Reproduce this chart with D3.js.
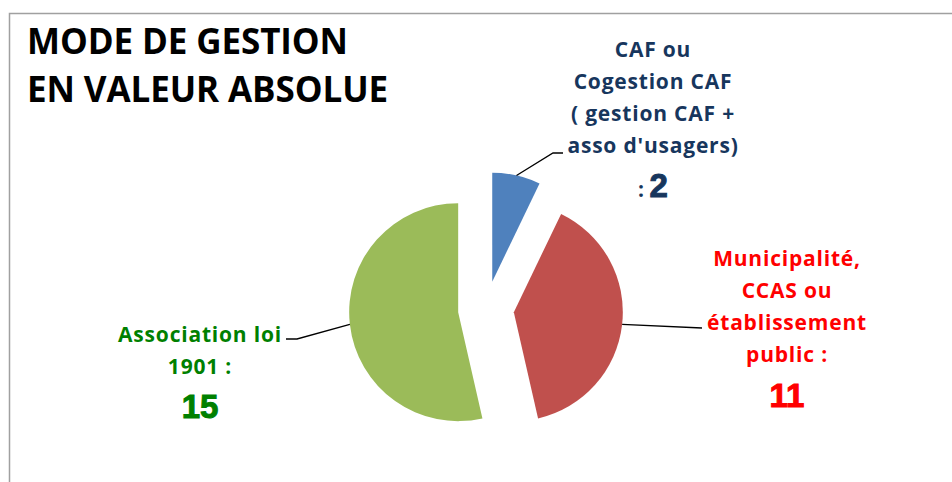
<!DOCTYPE html>
<html>
<head>
<meta charset="utf-8">
<script src="https://cdn.jsdelivr.net/npm/d3@7"></script>
<style>
	body { margin: 0; background: #fff; }
	svg { display: block; }
	text { font-family: 'Open Sans', 'Liberation Sans', sans-serif; font-weight: bold; }
</style>
</head>
<body>
<div id="chart"></div>
<script>
var categories = ['CAF ou Cogestion CAF', 'Municipalité, CCAS ou établissement public', 'Association loi 1901']
var values = [2, 11, 15]
var labelLines = [
	['CAF ou', 'Cogestion CAF', '( gestion CAF +', "asso d'usagers)"],
	['Municipalité,', 'CCAS ou', 'établissement', 'public :'],
	['Association loi', '1901 :']
]
var valuePrefix = [': ', '', '']
var sliceColors = ['#4f81bd', '#c0504d', '#9bbb59']
var textColors = ['#17365d', '#ff0000', '#008000']

function createPie() {
	let width = 952
	let height = 482
	var center = { x: 486, y: 309 }
	let radius = 109
	let explode = 28

	const svg = d3.select('#chart').append('svg')
		.attr('width', width)
		.attr('height', height)

	// chart frame (only top and left visible)
	svg.append('rect')
		.attr('x', 9.5)
		.attr('y', 13.5)
		.attr('width', 960)
		.attr('height', 500)
		.attr('fill', 'none')
		.attr('stroke', '#a0a0a0')
		.attr('stroke-width', 1.5)

	// title
	svg.selectAll('.title')
		.data(['MODE DE GESTION', 'EN VALEUR ABSOLUE'])
		.enter()
		.append('text')
		.attr('class', 'title')
		.attr('x', 27)
		.attr('y', (d, i) => 54 + i * 48)
		.attr('font-size', 35)
		.attr('letter-spacing', -0.1)
		.attr('fill', '#000')
		.text(d => d)

	var data = categories.map((c, i) => ({ name: c, value: values[i], i: i }))

	var pie = d3.pie()
		.sort(null)
		.value(d => d.value)

	var arcs = pie(data)
	var arc = d3.arc().innerRadius(0).outerRadius(radius)

	function dir(a) { return [Math.sin(a), -Math.cos(a)] }

	var slices = svg.append('g')
		.attr('transform', `translate(${center.x},${center.y})`)

	slices.selectAll('path')
		.data(arcs)
		.enter()
		.append('path')
		.attr('d', arc)
		.attr('fill', d => sliceColors[d.data.i])
		.attr('transform', d => {
			let m = dir((d.startAngle + d.endAngle) / 2)
			return `translate(${m[0] * explode},${m[1] * explode})`
		})

	// label layout: leader line bend/end and text anchor
	var layout = [
		{ bend: [553, 153], end: [563, 153], x: 653, y: 57, big: 197 },
		{ bend: [702, 328], end: [702, 328], x: 787, y: 266, big: 407 },
		{ bend: [297, 339], end: [286, 339], x: 200, y: 342, big: 418 }
	]

	arcs.forEach(d => {
		let i = d.data.i
		let L = layout[i]
		let m = dir((d.startAngle + d.endAngle) / 2)
		let sx = center.x + m[0] * (explode + radius)
		let sy = center.y + m[1] * (explode + radius)

		svg.append('path')
			.attr('d', d3.line()([[sx, sy], L.bend, L.end]))
			.attr('fill', 'none')
			.attr('stroke', '#000')
			.attr('stroke-width', 1.3)

		let g = svg.append('g')
		g.selectAll('text')
			.data(labelLines[i])
			.enter()
			.append('text')
			.attr('x', L.x)
			.attr('y', (t, k) => L.y + k * 32)
			.attr('text-anchor', 'middle')
			.attr('font-size', 21)
			.attr('letter-spacing', 0.8)
			.attr('fill', textColors[i])
			.text(t => t)

		let v = g.append('text')
			.attr('x', L.x)
			.attr('y', L.big)
			.attr('text-anchor', 'middle')
			.attr('fill', textColors[i])
		if (valuePrefix[i]) {
			v.append('tspan')
				.attr('font-size', 21)
				.text(valuePrefix[i])
		}
		v.append('tspan')
			.attr('font-family', "'Liberation Sans', sans-serif")
			.attr('font-size', 33)
			.attr('stroke', textColors[i])
			.attr('stroke-width', 1)
			.text(d.data.value)
	})
}

createPie()
</script>
</body>
</html>
